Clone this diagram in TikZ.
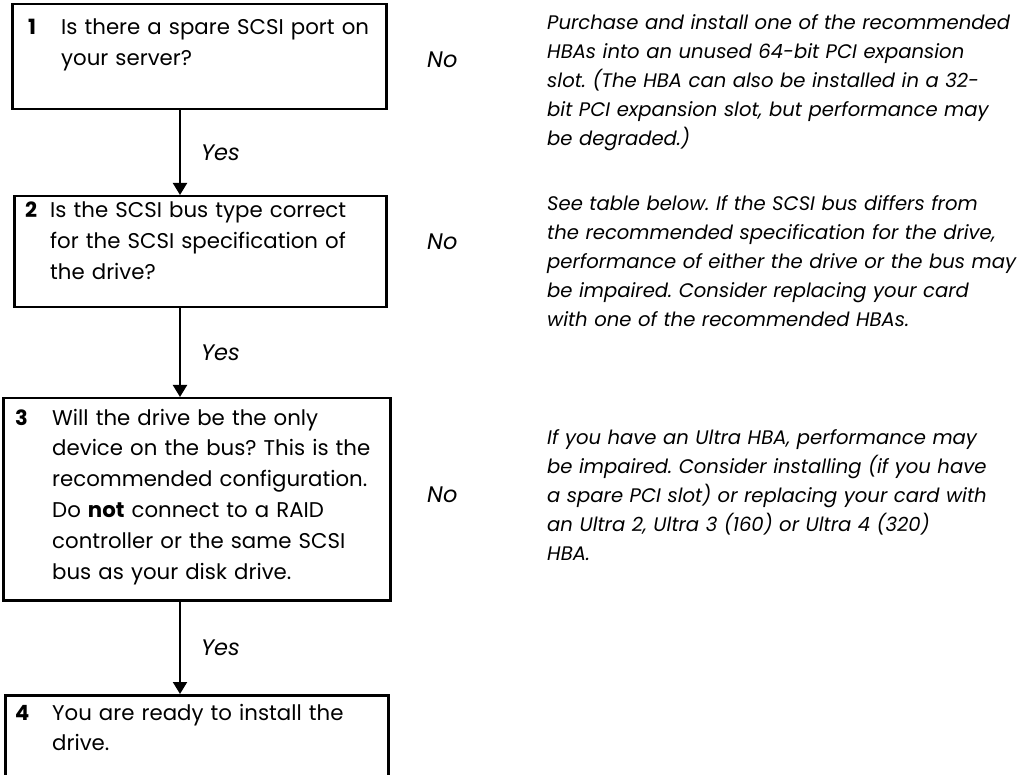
\documentclass[tikz,border=0pt]{standalone}
\usepackage{fontspec}
\setmainfont{Poppins}
\frenchspacing
\usetikzlibrary{arrows.meta}
\usetikzlibrary{positioning}
\tikzset{>={Triangle[width=14pt,length=12pt]}}
\tikzset{
	stepbox/.style={draw, line width=2.5pt, anchor=north west, inner sep=0pt},
	stepnum/.style={anchor=base west, inner sep=0pt, font=\fontsize{21}{24}\selectfont\bfseries},
	boxtext/.style={anchor=base west, inner sep=0pt, align=left, text width=500pt, font=\fontsize{21.3}{30.8}\selectfont},
	answer/.style={inner sep=0pt, font=\fontsize{22.5}{24}\selectfont\itshape},
	advice/.style={anchor=base west, inner sep=0pt, align=left, text width=600pt, font=\fontsize{19.6}{29}\selectfont\itshape},
	flow/.style={line width=2pt, ->}
}

\begin{document}
\begin{tikzpicture}[x=1pt,y=-1pt]
			\useasboundingbox (0,0) rectangle (1028,775);
			\clip (0,0) rectangle (1028,775);
			\coordinate (A) at (180,0);
			
			% the four steps
			\node[stepbox, minimum width=374pt, minimum height=105pt] (q1) at (11,3) {};
			\node[stepbox, minimum width=372pt, minimum height=111pt] (q2) at (13,195) {};
			\node[stepbox, minimum width=387pt, minimum height=202pt] (q3) at (2,397) {};
			\node[stepbox, minimum width=383pt, minimum height=110pt] (q4) at (4,694) {};
			
			\node[stepnum] (k1) at (28,35) {1};
			\node[boxtext] (t1) at (61,35) {Is there a spare SCSI port on\\ your server?};
			\node[stepnum] (k2) at (25,218) {2};
			\node[boxtext] (t2) at (50,218) {Is the SCSI bus type correct\\ for the SCSI specification of\\ the drive?};
			\node[stepnum] (k3) at (15,425) {3};
			\node[boxtext] (t3) at (52,425) {Will the drive be the only\\ device on the bus? This is the\\ recommended configuration.\\ Do \textbf{not} connect to a RAID\\ controller or the same SCSI\\ bus as your disk drive.};
			\node[stepnum] (k4) at (15,720) {4};
			\node[boxtext] (t4) at (52,720) {You are ready to install the\\ drive.};
			
			\draw[flow] (q1.south -| A) -- (q2.north -| A) node[answer, midway, right=20pt] (y1) {Yes};
			\draw[flow] (q2.south -| A) -- (q3.north -| A) node[answer, midway, right=20pt] (y2) {Yes};
			\draw[flow] (q3.south -| A) -- (q4.north -| A) node[answer, midway, right=20pt] (y3) {Yes};
			
			% the "No" branches
			\node[answer, anchor=base west] (n1) at (427,68) {No};
			\node[answer, anchor=base west] (n2) at (427,250) {No};
			\node[answer, anchor=base west] (n3) at (427,502) {No};
			
			\node[advice] (a1) at (547,30) {Purchase and install one of the recommended\\ HBAs into an unused 64-bit PCI expansion\\ slot. (The HBA can also be installed in a 32-\\ bit PCI expansion slot, but performance may\\ be degraded.)};
			\node[advice] (a2) at (547,211) {See table below. If the SCSI bus differs from\\ the recommended specification for the drive,\\ performance of either the drive or the bus may\\ be impaired. Consider replacing your card\\ with one of the recommended HBAs.};
			\node[advice] (a3) at (547,444) {If you have an Ultra HBA, performance may\\ be impaired. Consider installing (if you have\\ a spare PCI slot) or replacing your card with\\ an Ultra 2, Ultra 3 (160) or Ultra 4 (320)\\ HBA.};
			
		\end{tikzpicture}
\end{document}
